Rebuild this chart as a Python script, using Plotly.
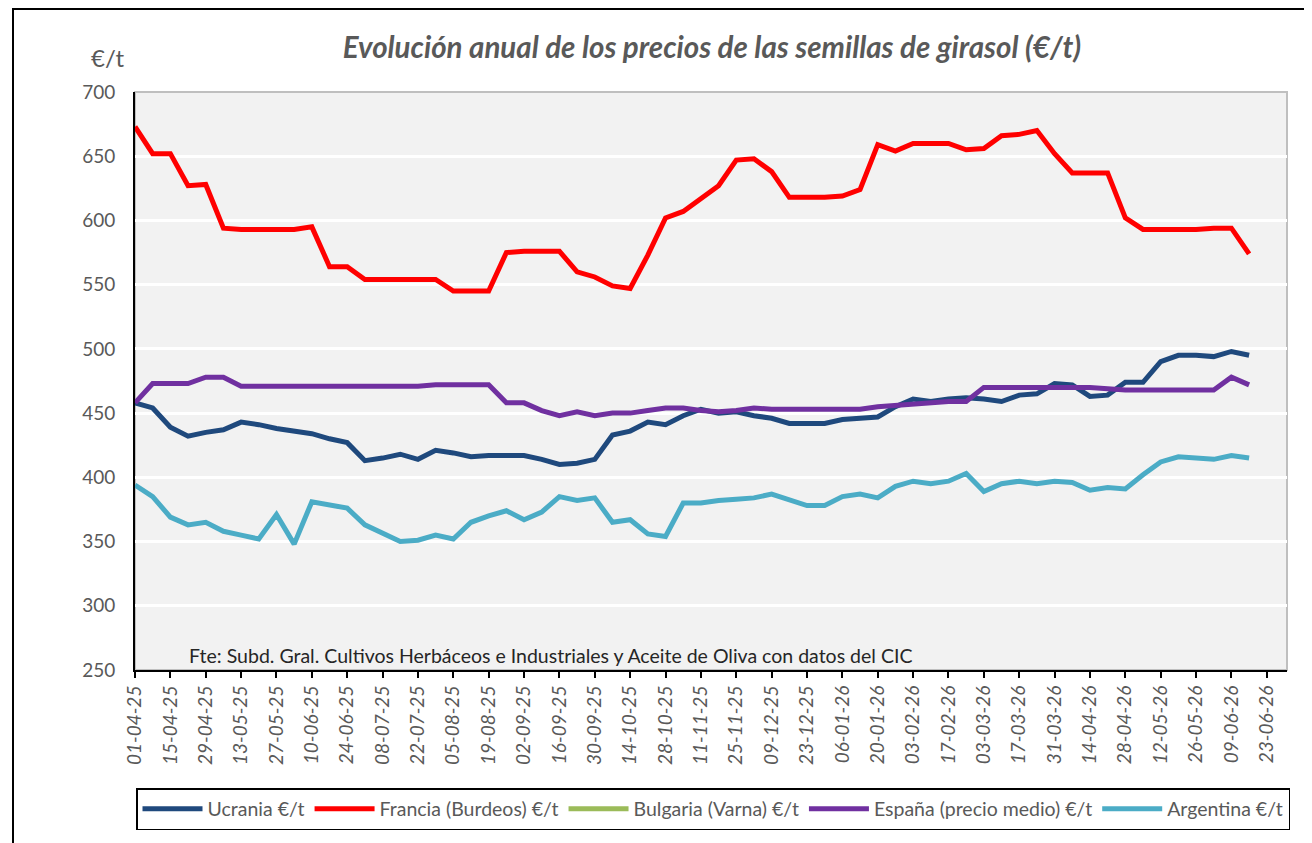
import pandas as pd
import plotly.graph_objects as go

# weekly dates (categories)
dates = pd.date_range("2025-04-01", periods=64, freq="7D")

ucrania = [458, 454, 439, 432, 435, 437, 443, 441, 438, 436, 434, 430, 427, 413, 415, 418,
           414, 421, 419, 416, 417, 417, 417, 414, 410, 411, 414, 433, 436, 443, 441, 448,
           453, 450, 451, 448, 446, 442, 442, 442, 445, 446, 447, 455, 461, 459, 461, 462,
           461, 459, 464, 465, 473, 472, 463, 464, 474, 474, 490, 495, 495, 494, 498, 495]

francia = [673, 652, 652, 627, 628, 594, 593, 593, 593, 593, 595, 564, 564, 554, 554, 554,
           554, 554, 545, 545, 545, 575, 576, 576, 576, 560, 556, 549, 547, 573, 602, 607,
           617, 627, 647, 648, 638, 618, 618, 618, 619, 624, 659, 654, 660, 660, 660, 655,
           656, 666, 667, 670, 652, 637, 637, 637, 602, 593, 593, 593, 593, 594, 594, 574]

bulgaria = [None] * 64

espana = [458, 473, 473, 473, 478, 478, 471, 471, 471, 471, 471, 471, 471, 471, 471, 471,
          471, 472, 472, 472, 472, 458, 458, 452, 448, 451, 448, 450, 450, 452, 454, 454,
          452, 451, 452, 454, 453, 453, 453, 453, 453, 453, 455, 456, 457, 458, 459, 459,
          470, 470, 470, 470, 470, 470, 470, 469, 468, 468, 468, 468, 468, 468, 478, 472]

argentina = [394, 385, 369, 363, 365, 358, 355, 352, 371, 348, 381, 378, 376, 363, 356, 350,
             351, 355, 352, 365, 370, 374, 367, 373, 385, 382, 384, 365, 367, 356, 354, 380,
             380, 382, 383, 384, 387, 382, 378, 378, 385, 387, 384, 393, 397, 395, 397, 403,
             389, 395, 397, 395, 397, 396, 390, 392, 391, 402, 412, 416, 415, 414, 417, 415]

series_names = ["Ucrania €/t", "Francia (Burdeos) €/t", "Bulgaria (Varna) €/t",
                "España (precio medio) €/t", "Argentina €/t"]
series_colors = ["#1F497D", "#FF0000", "#9BBB59", "#7030A0", "#4BACC6"]
series_values = [ucrania, francia, bulgaria, espana, argentina]

FONT = "Lato"
GRAY = "#595959"

fig = go.Figure()
for name, color, vals in zip(series_names, series_colors, series_values):
    fig.add_trace(go.Scatter(
        x=dates, y=vals, name=name, mode="lines",
        line=dict(color=color, width=5),
        connectgaps=False,
    ))

# page body has an 8px margin; work in screen pixels and shift
OFF = 8
W, H = 1312 - OFF, 843 - OFF
L, R, T, B = 135, 1287, 92, 670   # plot area in screen pixels
pw, ph = R - L, B - T

def px_x(x):
    return (x - L) / pw

def px_y(y):
    return (B - y) / ph

fig.update_layout(
    width=W, height=H,
    margin=dict(l=L - OFF, r=W - (R - OFF), t=T - OFF, b=H - (B - OFF)),
    paper_bgcolor="white",
    plot_bgcolor="#F2F2F2",
    font=dict(family=FONT, color=GRAY),
    title=dict(
        text="<b><i>Evolución anual de los precios de las semillas de girasol (€/t)</i></b>",
        x=(712 - OFF) / W, xanchor="center", y=1 - (48 - OFF) / H, yanchor="middle",
        font=dict(family=FONT, size=29.5, color=GRAY),
    ),
    showlegend=True,
    legend=dict(
        orientation="h",
        x=px_x(136), xanchor="left",
        y=px_y(788), yanchor="top",
        bordercolor="black", borderwidth=1.5, bgcolor="white",
        font=dict(family=FONT, size=19.5, color=GRAY),
        itemwidth=60,
        itemsizing="constant",
        traceorder="normal",
    ),
    xaxis=dict(
        type="date",
        range=["2025-04-01", "2026-07-01"],
        tick0="2025-04-01",
        dtick=14 * 86400000,
        tickformat="%d-%m-%y",
        tickangle=-90,
        tickfont=dict(family=FONT, size=19, color=GRAY, style="italic"),
        showgrid=False,
        showline=True, linecolor="black", linewidth=2,
        ticks="outside", ticklen=6, tickwidth=2, tickcolor="black",
        zeroline=False,
    ),
    yaxis=dict(
        range=[250, 700],
        dtick=50,
        tickfont=dict(family=FONT, size=19, color=GRAY),
        ticklabelstandoff=14,
        showgrid=True, gridcolor="white", gridwidth=2.5,
        showline=True, linecolor="black", linewidth=2,
        ticks="", zeroline=False,
    ),
    shapes=[
        dict(type="rect", xref="paper", yref="paper", x0=0, x1=1, y0=0, y1=1,
             line=dict(color="#BFBFBF", width=2), layer="below"),
        dict(type="rect", xref="paper", yref="paper",
             x0=px_x(13), x1=px_x(1340), y0=px_y(9), y1=px_y(880),
             line=dict(color="black", width=2), layer="below"),
    ],
    annotations=[
        dict(text="€/t", xref="paper", yref="paper", x=px_x(108), y=px_y(58),
             xanchor="center", yanchor="middle", showarrow=False,
             font=dict(family=FONT, size=24, color=GRAY)),
        dict(text="Fte: Subd. Gral. Cultivos Herbáceos e Industriales y Aceite de Oliva con datos del CIC",
             xref="paper", yref="paper", x=px_x(187), y=px_y(655),
             xanchor="left", yanchor="middle", showarrow=False,
             font=dict(family=FONT, size=19.5, color="#262626")),
    ],
)

fig.write_html("out.html")
